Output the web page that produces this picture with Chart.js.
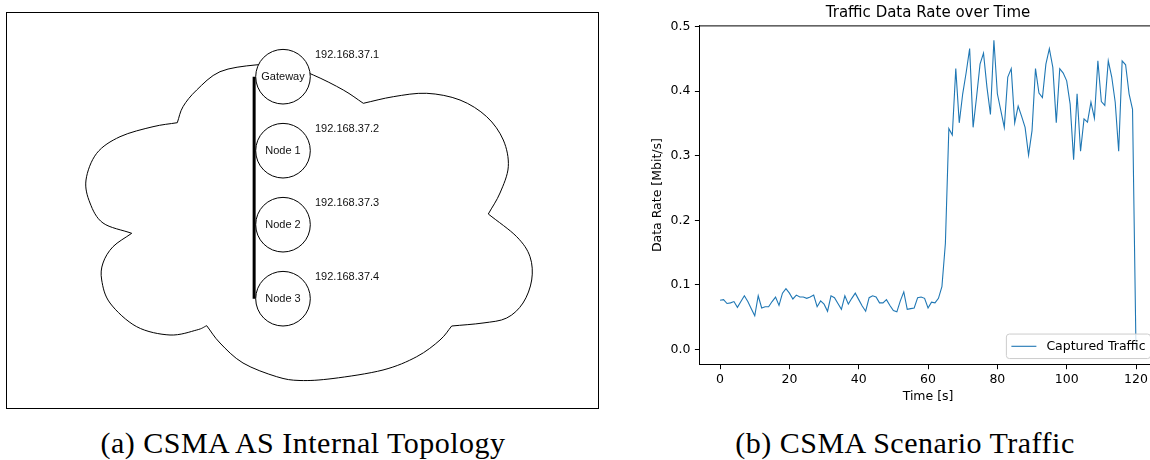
<!DOCTYPE html>
<html>
<head>
<meta charset="utf-8">
<script src="https://cdn.jsdelivr.net/npm/chart.js@4.4.1/dist/chart.umd.min.js"></script>
<style>
  html, body { margin: 0; padding: 0; width: 1150px; height: 460px; overflow: hidden; background: #fff; }
  #topoBox { position: absolute; left: 6px; top: 12px; width: 591px; height: 395px; border: 1px solid #000; }
  #topo { display: block; }
  #traffic { position: absolute; left: 640px; top: 0; }
  .caption { position: absolute; top: 428px; font-family: 'Liberation Serif', serif; font-size: 30px;
             letter-spacing: 0.5px; line-height: 30px; white-space: nowrap; text-align: center; color: #000; }
</style>
</head>
<body>
<div id="topoBox"><canvas id="topo" width="591" height="395"></canvas></div>
<canvas id="traffic" width="530" height="420"></canvas>
<div class="caption" style="left:0; width:606px;">(a) CSMA AS Internal Topology</div>
<div class="caption" style="left:640px; width:530px;">(b) CSMA Scenario Traffic</div>

<script>
// ---- data ----
const nodeNames = ['Gateway', 'Node 1', 'Node 2', 'Node 3'];
const nodeAddrs = ['192.168.37.1', '192.168.37.2', '192.168.37.3', '192.168.37.4'];

const times = [0,1,2,3,4,5,6,7,8,9,10,11,12,13,14,15,16,17,18,19,20,21,22,23,24,25,26,27,28,29,30,
  31,32,33,34,35,36,37,38,39,40,41,42,43,44,45,46,47,48,49,50,51,52,53,54,55,56,57,58,59,60,
  61,62,63,64,65,66,67,68,69,70,71,72,73,74,75,76,77,78,79,80,81,82,83,84,85,86,87,88,89,90,
  91,92,93,94,95,96,97,98,99,100,101,102,103,104,105,106,107,108,109,110,111,112,113,114,115,116,117,118,119,120];
const rates = [
  0.076, 0.077, 0.071, 0.072, 0.074, 0.065, 0.074, 0.083, 0.074, 0.063,
  0.052, 0.083, 0.064, 0.066, 0.066, 0.074, 0.081, 0.068, 0.087, 0.094,
  0.087, 0.078, 0.084, 0.081, 0.081, 0.079, 0.081, 0.084, 0.066, 0.075,
  0.070, 0.059, 0.083, 0.080, 0.071, 0.062, 0.083, 0.070, 0.079, 0.087,
  0.077, 0.067, 0.059, 0.080, 0.083, 0.081, 0.072, 0.072, 0.077, 0.068,
  0.060, 0.058, 0.075, 0.089, 0.062, 0.063, 0.064, 0.080, 0.081, 0.079,
  0.064, 0.073, 0.072, 0.079, 0.097, 0.164, 0.342, 0.332, 0.435, 0.351,
  0.396, 0.429, 0.466, 0.344, 0.391, 0.442, 0.459, 0.406, 0.364, 0.479,
  0.396, 0.370, 0.344, 0.422, 0.435, 0.351, 0.377, 0.361, 0.344, 0.301,
  0.339, 0.435, 0.397, 0.390, 0.442, 0.466, 0.437, 0.351, 0.435, 0.428,
  0.416, 0.380, 0.294, 0.396, 0.307, 0.357, 0.352, 0.383, 0.358, 0.447,
  0.384, 0.378, 0.447, 0.422, 0.383, 0.307, 0.447, 0.441, 0.396, 0.372,
  0.0
];
const xTicks = [0, 20, 40, 60, 80, 100, 120];
const yTicks = [0.0, 0.1, 0.2, 0.3, 0.4, 0.5];
const seriesLabel = 'Captured Traffic';
const chartTitle = 'Traffic Data Rate over Time';
const xTitle = 'Time [s]';
const yTitle = 'Data Rate [Mbit/s]';

Chart.defaults.font.family = 'DejaVu Sans';
Chart.defaults.animation = false;

// ---- (a) topology diagram ----
const UNIT = 74;                 // px between node centres
const NODE_X = 276, NODE_Y = 63.7;
const TOPO_W = 591, TOPO_H = 395;
const BUS_X = -0.39;
const ADDR_DX = 0.432, ADDR_DY = -0.3;

// cloud outline, figure pixels, one list per lobe (clockwise from the upper-left notch)
const cloudLobes = [
  [[177.3,122.7],[183,106.7],[196.7,90],[220,71.7],[255,65],[285,65],[313.3,75],[343.3,90],[363.3,103.3]],
  [[363.3,103.3],[393.3,96.7],[426.7,93.3],[460,100],[486.7,116.7],[503.3,140],[508.3,166.7],[500,193],[488.3,214]],
  [[488.3,214],[516.7,236.7],[530,256.7],[531.7,280],[523,303],[506.7,318],[483,323],[451.7,326]],
  [[451.7,326],[440,340],[416.7,356.7],[383,370],[333,378.5],[300,380.5],[276.7,376.7],[243,363],[220,343],[206.7,325.7]],
  [[206.7,325.7],[196.7,330],[170,335],[136.7,326.7],[110,303],[101.7,280],[103,263],[113,246.7],[131.7,233.3]],
  [[131.7,233.3],[103,223],[90,203],[86,180],[96.7,153.3],[120,136.7],[153,126.7],[177.3,122.7]]
];

function drawLobe(ctx, pts) {
  const n = pts.length;
  for (let i = 0; i < n - 1; i++) {
    const p1 = pts[i], p2 = pts[i + 1];
    const p0 = i > 0 ? pts[i - 1] : [2 * p1[0] - p2[0], 2 * p1[1] - p2[1]];
    const p3 = i < n - 2 ? pts[i + 2] : [2 * p2[0] - p1[0], 2 * p2[1] - p1[1]];
    ctx.bezierCurveTo(
      p1[0] + (p2[0] - p0[0]) / 6, p1[1] + (p2[1] - p0[1]) / 6,
      p2[0] - (p3[0] - p1[0]) / 6, p2[1] - (p3[1] - p1[1]) / 6,
      p2[0], p2[1]);
  }
}

const cloudPlugin = {
  id: 'cloud',
  beforeDatasetsDraw(chart) {
    const {ctx, scales: {x, y}} = chart;
    const toPx = ([X, Y]) => [x.getPixelForValue((X - 7 - NODE_X) / UNIT),
                              y.getPixelForValue((Y - 13 - NODE_Y) / UNIT)];
    const lobes = cloudLobes.map(l => l.map(toPx));
    ctx.save();
    ctx.strokeStyle = '#000';
    ctx.lineWidth = 1;
    ctx.beginPath();
    ctx.moveTo(lobes[0][0][0], lobes[0][0][1]);
    lobes.forEach(l => drawLobe(ctx, l));
    ctx.closePath();
    ctx.stroke();
    ctx.restore();
  },
  afterDatasetsDraw(chart) {
    const {ctx, scales: {x, y}} = chart;
    ctx.save();
    ctx.fillStyle = '#111';
    ctx.font = '11px "Liberation Sans"';
    ctx.textBaseline = 'middle';
    nodeNames.forEach((name, i) => {
      ctx.textAlign = 'center';
      ctx.fillText(name, x.getPixelForValue(0), y.getPixelForValue(i));
      ctx.textAlign = 'left';
      ctx.fillText(nodeAddrs[i], x.getPixelForValue(ADDR_DX), y.getPixelForValue(i + ADDR_DY));
    });
    ctx.restore();
  }
};

new Chart(document.getElementById('topo'), {
  type: 'scatter',
  data: {
    datasets: [
      {
        data: [{x: BUS_X, y: 0}, {x: BUS_X, y: nodeNames.length - 1}],
        showLine: true, borderColor: '#000', borderWidth: 3, pointRadius: 0
      },
      {
        data: nodeNames.map((_, i) => ({x: 0, y: i})),
        pointRadius: 27.3, pointStyle: 'circle',
        backgroundColor: '#fff', borderColor: '#000', borderWidth: 1
      }
    ]
  },
  options: {
    responsive: false,
    events: [],
    layout: { padding: 0, autoPadding: false },
    scales: {
      x: { type: 'linear', display: false, min: -NODE_X / UNIT, max: (TOPO_W - NODE_X) / UNIT },
      y: { type: 'linear', display: false, reverse: true, min: -NODE_Y / UNIT, max: (TOPO_H - NODE_Y) / UNIT }
    },
    plugins: { legend: { display: false }, tooltip: { enabled: false } }
  },
  plugins: [cloudPlugin]
});

// ---- (b) traffic chart ----
const axesDecor = {
  id: 'axesDecor',
  afterDraw(chart) {
    const {ctx, chartArea: a} = chart;
    ctx.save();
    ctx.strokeStyle = '#000';
    ctx.lineWidth = 1;
    ctx.beginPath();
    ctx.moveTo(a.left, a.top + 0.5); ctx.lineTo(a.right, a.top + 0.5);
    ctx.moveTo(a.right - 0.5, a.top); ctx.lineTo(a.right - 0.5, a.bottom);
    ctx.stroke();

    ctx.fillStyle = '#000';
    ctx.font = '15px "DejaVu Sans"';
    ctx.textAlign = 'center';
    ctx.textBaseline = 'alphabetic';
    ctx.fillText(chartTitle, (a.left + a.right) / 2, a.top - 8.5);

    // legend, lower right inside the axes
    const ds = chart.data.datasets[0];
    ctx.font = '12.5px "DejaVu Sans"';
    const tw = ctx.measureText(ds.label).width;
    const pad = 5, handle = 25, gap = 10, h = 24.5;
    const w = pad + handle + gap + tw + pad;
    const right = a.right - 6.25, bottom = a.bottom - 6.25;
    const left = right - w, top = bottom - h;
    ctx.beginPath();
    ctx.roundRect(left, top, w, h, 3);
    ctx.fillStyle = 'rgba(255,255,255,0.8)';
    ctx.fill();
    ctx.strokeStyle = '#ccc';
    ctx.stroke();
    const cy = top + h / 2;
    ctx.strokeStyle = ds.borderColor;
    ctx.lineWidth = ds.borderWidth;
    ctx.beginPath();
    ctx.moveTo(left + pad, cy); ctx.lineTo(left + pad + handle, cy);
    ctx.stroke();
    ctx.fillStyle = '#000';
    ctx.textAlign = 'left';
    ctx.textBaseline = 'middle';
    ctx.fillText(ds.label, left + pad + handle + gap, cy);
    ctx.restore();
  }
};

new Chart(document.getElementById('traffic'), {
  type: 'line',
  data: {
    datasets: [{
      label: seriesLabel,
      data: times.map((t, i) => ({x: t, y: rates[i]})),
      borderColor: '#1f77b4',
      borderWidth: 1.1,
      pointRadius: 0,
      tension: 0,
      fill: false
    }]
  },
  options: {
    responsive: false,
    events: [],
    layout: { padding: { top: 25.4, right: 13.2, left: 0, bottom: 0 }, autoPadding: false },
    scales: {
      x: {
        type: 'linear', min: -6, max: 126,
        afterBuildTicks: s => { s.ticks = xTicks.map(v => ({value: v})); },
        afterFit: s => { s.height = 55.2; },
        grid: { drawOnChartArea: false, drawTicks: true, tickLength: 4.4, tickColor: '#000', tickWidth: 1 },
        border: { display: true, color: '#000', width: 1 },
        ticks: { color: '#000', font: { size: 12.5 }, padding: 3, maxRotation: 0, autoSkip: false },
        title: { display: true, text: xTitle, color: '#000', font: { size: 12.5 }, padding: { top: 0, bottom: 15.5 } }
      },
      y: {
        type: 'linear', min: -0.024, max: 0.502,
        afterBuildTicks: s => { s.ticks = yTicks.map(v => ({value: v})); },
        afterFit: s => { s.width = 59.3; },
        grid: { drawOnChartArea: false, drawTicks: true, tickLength: 4.4, tickColor: '#000', tickWidth: 1 },
        border: { display: true, color: '#000', width: 1 },
        ticks: { color: '#000', font: { size: 12.5 }, padding: 4.5, callback: v => v.toFixed(1) },
        title: { display: true, text: yTitle, color: '#000', font: { size: 12.5 }, padding: { top: 10.5, bottom: 0 } }
      }
    },
    plugins: { legend: { display: false }, tooltip: { enabled: false } }
  },
  plugins: [axesDecor]
});
</script>
</body>
</html>
